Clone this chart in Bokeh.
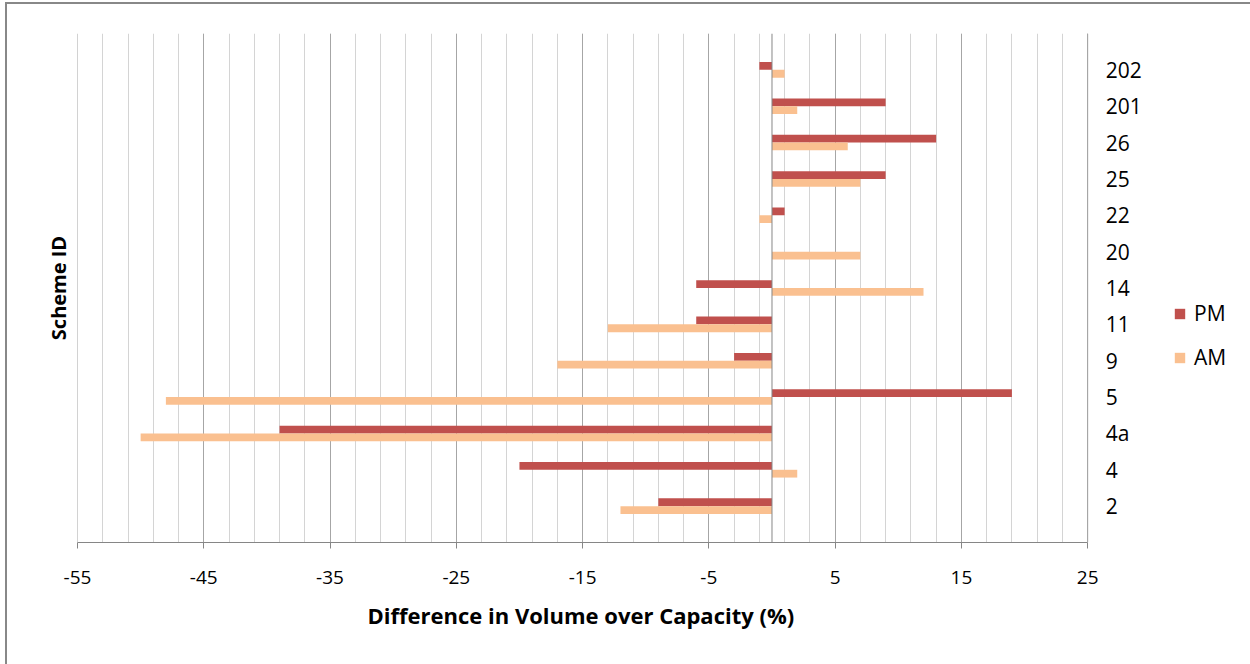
from bokeh.plotting import figure
from bokeh.models import (Range1d, FixedTicker, Span, Legend, LegendItem, ColumnDataSource,
                          Title)
from bokeh.core.properties import value
from bokeh.transform import dodge
from bokeh.embed import file_html
from bokeh.resources import INLINE

# ---- data ----
categories = ["2", "4", "4a", "5", "9", "11", "14", "20", "22", "25", "26", "201", "202"]
pm_values = [-9, -20, -39, 19, -3, -6, -6, 0, 1, 9, 13, 9, -1]
am_values = [-12, 2, -50, -48, -17, -13, 12, 7, -1, 7, 6, 2, 1]
x_major_ticks = [-55, -45, -35, -25, -15, -5, 5, 15, 25]
x_minor_ticks = list(range(-55, 26, 2))

PM_COLOR = "#C0504D"
AM_COLOR = "#FAC090"
MAJOR_GRID = "#A6A6A6"
MINOR_GRID = "#D4D4D4"
AXIS_GRAY = "#868686"
FONT = "Open Sans"

x_lo, x_hi = x_major_ticks[0], x_major_ticks[-1]
positions = list(range(len(categories)))
src = ColumnDataSource(dict(pos=positions, cat=categories, pm=pm_values, am=am_values,
                            lab_x=[x_hi] * len(categories)))

# the frame extends to the right of the value axis so that the category labels
# and the legend (outside the value area in the reference) can be drawn there
p = figure(frame_width=1168, frame_height=509, output_backend="svg", toolbar_location=None,
           x_range=Range1d(x_lo, 37.5), y_range=Range1d(-1, 13),
           min_border_left=70, min_border_right=5, min_border_top=29,
           min_border_bottom=122)
p.styles = {"margin-left": "5px", "margin-top": "2px",
            "border-left": "2px solid #888888", "border-top": "2px solid #888888"}
p.outline_line_color = None
p.background_fill_color = "white"
p.border_fill_color = "white"

# grids
ticker = FixedTicker(ticks=x_major_ticks, minor_ticks=x_minor_ticks)
p.xaxis.ticker = ticker
p.xgrid.ticker = ticker
p.xgrid.bounds = (x_lo, x_hi)
p.xgrid.grid_line_color = MAJOR_GRID
p.xgrid.minor_grid_line_color = MINOR_GRID
p.ygrid.grid_line_color = None
for edge in (x_lo, x_hi):
    p.add_layout(Span(location=edge, dimension="height", line_color=MAJOR_GRID, line_width=1))

# x axis
xa = p.xaxis[0]
xa.bounds = (x_lo, x_hi)
xa.axis_line_color = AXIS_GRAY
xa.major_tick_line_color = AXIS_GRAY
xa.major_tick_in = 0
xa.major_tick_out = 6
xa.minor_tick_line_color = None
xa.major_label_overrides = {t: str(t) for t in x_major_ticks}
xa.major_label_text_font = FONT
xa.major_label_text_font_size = "19px"
xa.major_label_text_color = "#000000"
xa.major_label_standoff = 22

# x axis title, placed under the value axis (not under the whole frame)
xtitle = Title(text="Difference in Volume over Capacity (%)", align="left", offset=290,
               text_font=FONT, text_font_size="22px", text_font_style="bold",
               text_color="#000000", standoff=22)
p.add_layout(xtitle, "below")

# left axis: only the title
ya = p.yaxis[0]
ya.ticker = FixedTicker(ticks=[])
ya.axis_line_color = None
ya.major_tick_line_color = None
ya.minor_tick_line_color = None
ya.major_label_text_font_size = "0px"
ya.major_label_standoff = 0
ya.axis_label = "Scheme ID"
ya.axis_label_text_font = FONT
ya.axis_label_text_font_size = "20px"
ya.axis_label_text_font_style = "bold"
ya.axis_label_text_color = "#000000"
ya.axis_label_standoff = 6

# bars
r_pm = p.hbar(y=dodge("pos", 0.107, range=p.y_range), height=0.214, left=0, right="pm",
              source=src, fill_color=PM_COLOR, line_color=None)
r_am = p.hbar(y=dodge("pos", -0.107, range=p.y_range), height=0.214, left=0, right="am",
              source=src, fill_color=AM_COLOR, line_color=None)

# zero line
p.add_layout(Span(location=0, dimension="height", line_color=AXIS_GRAY, line_width=1))

# category labels (right of the value area)
p.text(x="lab_x", y="pos", text="cat", source=src, x_offset=18,
       text_align="left", text_baseline="middle",
       text_font=value(FONT), text_font_size="21px", text_color="#000000")

legend = Legend(items=[LegendItem(label="PM", renderers=[r_pm]),
                       LegendItem(label="AM", renderers=[r_am])],
                location=(1096, 170), orientation="vertical")
legend.background_fill_alpha = 0
legend.border_line_color = None
legend.padding = 0
legend.margin = 0
legend.glyph_width = 13
legend.glyph_height = 13
legend.label_height = 30
legend.label_standoff = 8
legend.spacing = 14
legend.label_text_font = FONT
legend.label_text_font_size = "21px"
legend.label_text_color = "#000000"
p.add_layout(legend, "center")

open("out.html", "w").write(file_html(p, INLINE))
